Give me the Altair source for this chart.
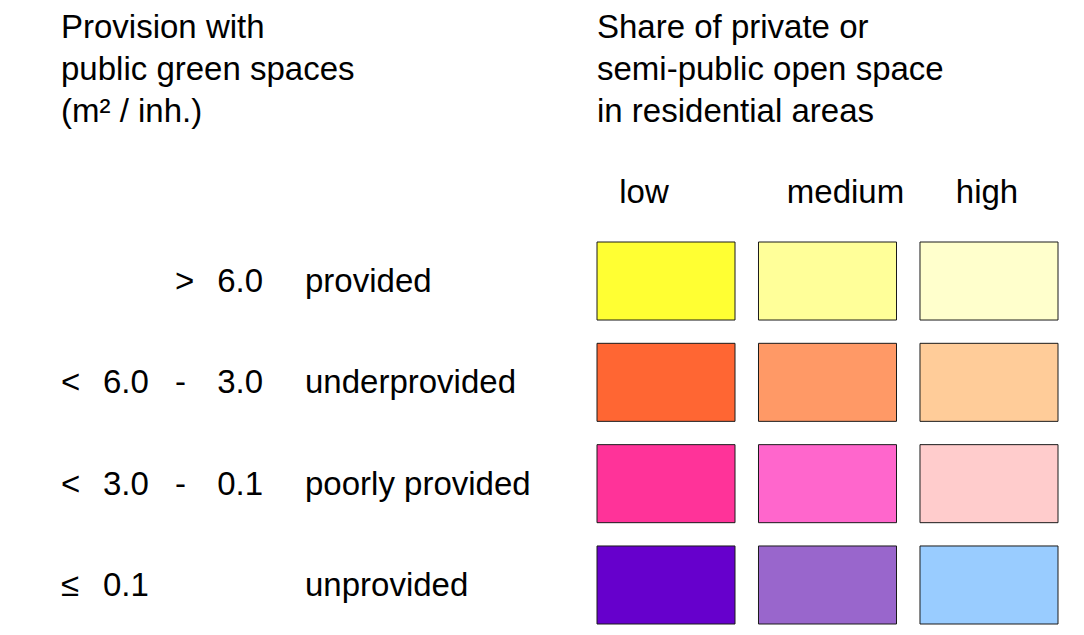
import altair as alt
import pandas as pd

# ---- content ----
title_left = ["Provision with", "public green spaces", "(m² / inh.)"]
title_right = ["Share of private or", "semi-public open space", "in residential areas"]

share_levels = ["low", "medium", "high"]
provision_classes = ["provided", "underprovided", "poorly provided", "unprovided"]

range_symbol = ["", "<", "<", "≤"]
range_lower = ["", "6.0", "3.0", "0.1"]
range_sep = [">", "-", "-", ""]
range_upper = ["6.0", "3.0", "0.1", ""]

colors_low = ["#FFFF33", "#FF6633", "#FF3399", "#6600CC"]
colors_medium = ["#FFFF99", "#FF9966", "#FF66CC", "#9966CC"]
colors_high = ["#FFFFCC", "#FFCC99", "#FFCCCC", "#99CCFF"]

# ---- tables built from the lists ----
color_cols = {"low": colors_low, "medium": colors_medium, "high": colors_high}
cells = pd.DataFrame(
    [
        {"cls": c, "level": lv, "color": color_cols[lv][i]}
        for i, c in enumerate(provision_classes)
        for lv in share_levels
    ]
)
rows = pd.DataFrame(
    {
        "cls": provision_classes,
        "symbol": range_symbol,
        "lower": range_lower,
        "sep": range_sep,
        "upper": range_upper,
    }
)

FONT = "Liberation Sans, Arial, Helvetica, sans-serif"
FS = 33

x_scale = alt.Scale(domain=share_levels, range=[589, 1050], paddingInner=0.1455, paddingOuter=0)
y_scale = alt.Scale(domain=provision_classes, range=[234, 616], paddingInner=0.23, paddingOuter=0)

X = alt.X("level:N", scale=x_scale, axis=None)
Y = alt.Y("cls:N", scale=y_scale, axis=None)

cells_layer = alt.Chart(cells).mark_rect(stroke="#1a1a1a", strokeWidth=1).encode(
    x=X, y=Y, fill=alt.Fill("color:N", scale=None)
)


def row_text(field, xpos, align, dy=11):
    return alt.Chart(rows).mark_text(
        align=align, baseline="alphabetic", dy=dy, fontSize=FS, font=FONT, color="black"
    ).encode(x=alt.value(xpos), y=Y, text=f"{field}:N")


sym_layer = row_text("symbol", 53, "left")
low_layer = row_text("lower", 95, "left")
sep_layer = row_text("sep", 167, "left")
up_layer = row_text("upper", 255, "right")
cls_layer = row_text("cls", 297, "left")

header_dx = {"low": -22, "medium": 18, "high": -2}
header_layers = [
    alt.Chart(pd.DataFrame({"level": [lv]})).mark_text(
        align="center", baseline="alphabetic", dx=header_dx[lv], fontSize=FS, font=FONT, color="black"
    ).encode(x=X, y=alt.value(195), text="level:N")
    for lv in share_levels
]

one = pd.DataFrame({"k": [0]})
title_l = alt.Chart(one).mark_text(
    text=title_left, align="left", baseline="alphabetic", fontSize=FS, font=FONT,
    lineHeight=42, color="black"
).encode(x=alt.value(53), y=alt.value(30))
title_r = alt.Chart(one).mark_text(
    text=title_right, align="left", baseline="alphabetic", fontSize=FS, font=FONT,
    lineHeight=42, color="black"
).encode(x=alt.value(589), y=alt.value(30))

chart = alt.layer(
    cells_layer, sym_layer, low_layer, sep_layer, up_layer, cls_layer,
    *header_layers, title_l, title_r
).properties(
    width=1068, height=619, autosize=alt.AutoSizeParams(type="none"), padding=0,
    background="white"
).configure_view(strokeWidth=0)

chart.save("out.html", embed_options={"renderer": "svg", "actions": False})
